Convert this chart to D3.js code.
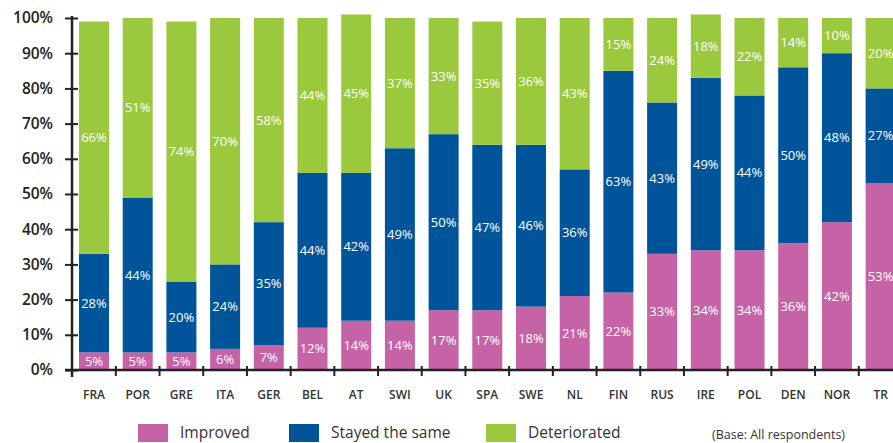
<!DOCTYPE html>
<html><head><meta charset="utf-8">
<script src="https://cdn.jsdelivr.net/npm/d3@7"></script>
<style>body{margin:0;background:#fff;}svg{display:block;}</style>
</head><body>
<script>
const categories = ["FRA","POR","GRE","ITA","GER","BEL","AT","SWI","UK","SPA","SWE","NL","FIN","RUS","IRE","POL","DEN","NOR","TR"];
const improved     = [5,5,5,6,7,12,14,14,17,17,18,21,22,33,34,34,36,42,53];
const stayedSame   = [28,44,20,24,35,44,42,49,50,47,46,36,63,43,49,44,50,48,27];
const deteriorated = [66,51,74,70,58,44,45,37,33,35,36,43,15,24,18,22,14,10,20];
const seriesNames = ["Improved","Stayed the same","Deteriorated"];
const seriesColors = ["#C663A6","#00559A","#9BC93D"];
const yTicks = [0,10,20,30,40,50,60,70,80,90,100];

const W = 893, H = 443;
const svg = d3.select("body").append("svg").attr("width", W).attr("height", H);
const font = "'Open Sans', sans-serif";

const x = d3.scaleBand().domain(categories).range([72, 902.6]).paddingInner(0.3135).paddingOuter(0.16);
const y = d3.scaleLinear().domain([0,100]).range([370, 18]);

const rows = categories.map((c,i)=>({cat:c, Improved:improved[i], "Stayed the same":stayedSame[i], Deteriorated:deteriorated[i]}));
const stack = d3.stack().keys(seriesNames)(rows);

const g = svg.append("g");
stack.forEach((layer, li) => {
  g.selectAll(null).data(layer).enter().append("rect")
    .attr("x", d => x(d.data.cat))
    .attr("width", x.bandwidth())
    .attr("y", d => y(d[1]))
    .attr("height", d => y(d[0]) - y(d[1]))
    .attr("fill", seriesColors[li]);
  g.selectAll(null).data(layer).enter().append("text")
    .attr("x", d => x(d.data.cat) + x.bandwidth()/2)
    .attr("y", d => y((d[0]+d[1])/2))
    .attr("dy", "0.35em")
    .attr("text-anchor", "middle")
    .attr("fill", "#fff")
    .attr("font-family", font)
    .attr("font-size", 13)
    .attr("font-weight", 500)
    .text(d => (d[1]-d[0]) + "%");
});

// Y axis
const yAxis = d3.axisLeft(y).tickValues(yTicks).tickFormat(d => d + "%").tickSizeInner(7).tickSizeOuter(0);
const ya = svg.append("g").attr("transform", "translate(72,0)").call(yAxis);
ya.select(".domain").remove();
ya.selectAll(".tick line").attr("x1", 6).attr("x2", -7).attr("stroke", "#222").attr("stroke-width", 2);
ya.selectAll(".tick text").attr("x", -19).attr("font-family", font).attr("font-size", 15.5).attr("font-weight", 600).attr("fill", "#222");
svg.append("line").attr("x1", 72).attr("x2", 72).attr("y1", 16).attr("y2", 377).attr("stroke", "#222").attr("stroke-width", 2.5);

// X axis
const xa = svg.append("g").attr("transform", "translate(0,370)").call(d3.axisBottom(x).tickSize(0));
xa.select(".domain").remove();
xa.selectAll(".tick text").attr("y", 25).attr("dy", "0.35em").attr("font-family", font).attr("font-size", 12).attr("font-weight", 600).attr("fill", "#333");
svg.append("line").attr("x1", 65).attr("x2", W).attr("y1", 370).attr("y2", 370).attr("stroke", "#222").attr("stroke-width", 2.5);
const gapHalf = (x.step()-x.bandwidth())/2;
const bounds = categories.map((c) => x(c) - gapHalf).slice(1);
svg.selectAll(null).data(bounds).enter().append("line")
  .attr("x1", d => d).attr("x2", d => d).attr("y1", 366).attr("y2", 376)
  .attr("stroke", "#222").attr("stroke-width", 2);

// Legend
const legendX = [138, 289, 486];
const lg = svg.append("g");
seriesNames.forEach((s,i) => {
  lg.append("rect").attr("x", legendX[i]).attr("y", 424).attr("width", 30).attr("height", 18).attr("fill", seriesColors[i]);
  lg.append("text").attr("x", legendX[i] + 42).attr("y", 438).attr("font-family", font).attr("font-size", 15.5).attr("fill", "#333").text(s);
});
svg.append("text").attr("x", 712).attr("y", 439).attr("font-family", font).attr("font-size", 12.5).attr("fill", "#333").text("(Base: All respondents)");
</script>
</body></html>
